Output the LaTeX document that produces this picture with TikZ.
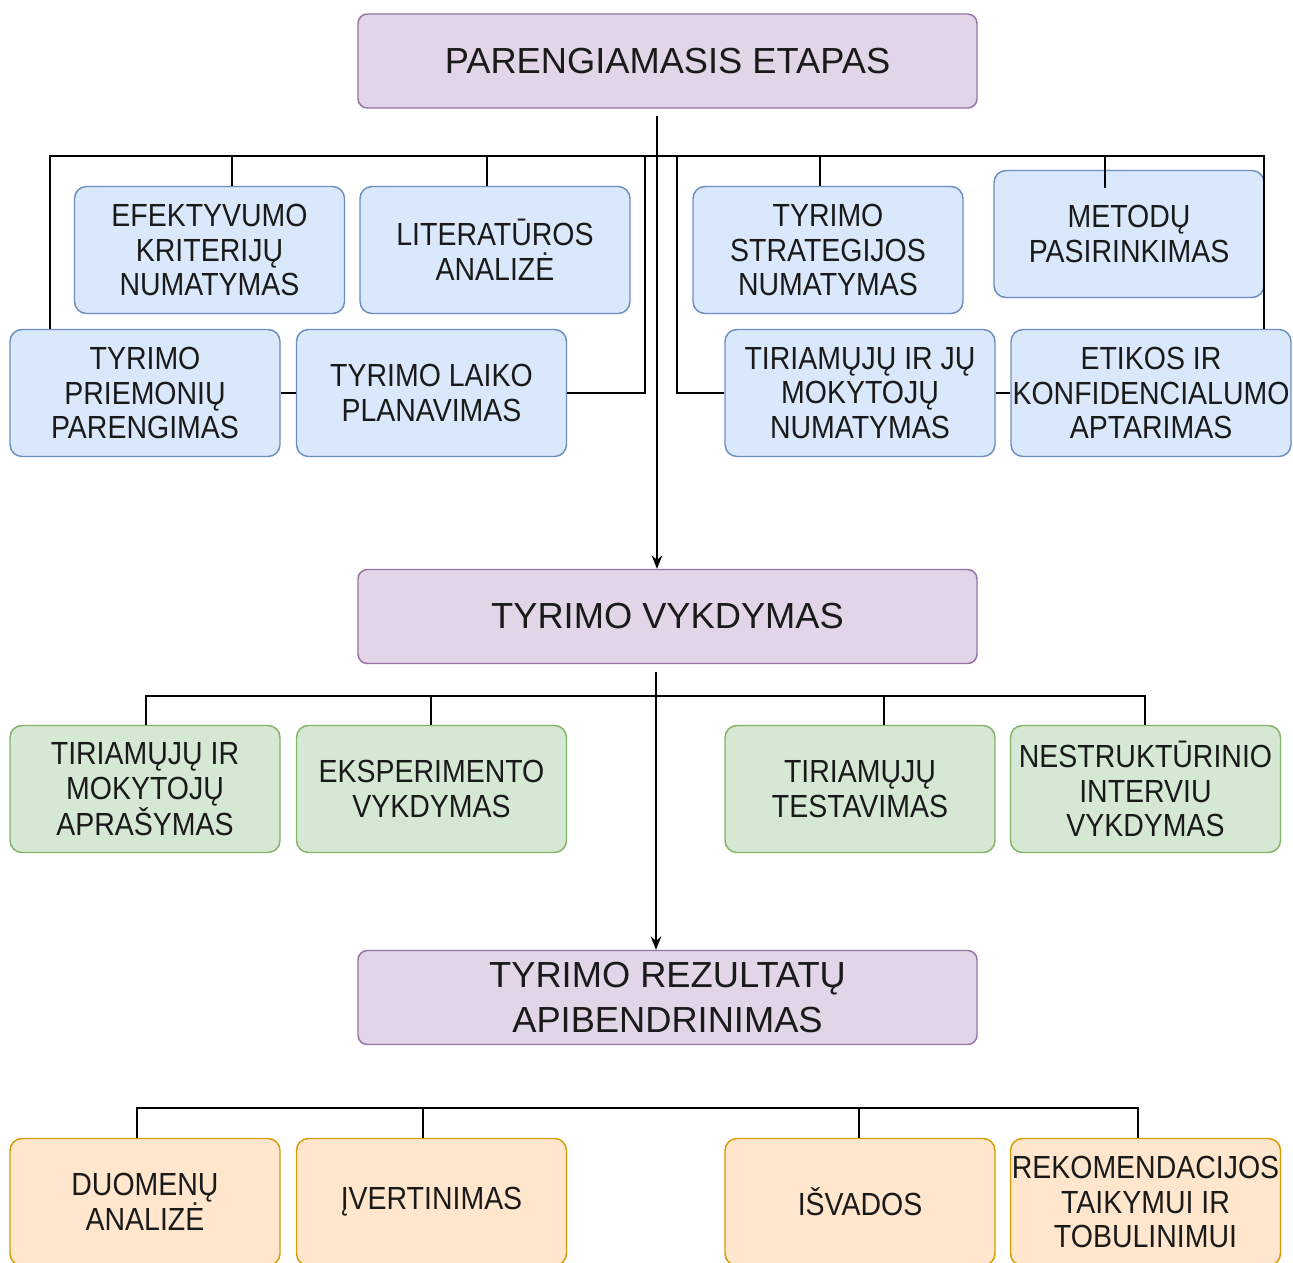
\documentclass[tikz,border=0pt]{standalone}
\usepackage{fontspec}
\setmainfont{Liberation Sans}
\newfontfamily\boxfont{Liberation Sans}[FakeStretch=0.89]
\usetikzlibrary{arrows.meta}
\definecolor{phasefill}{HTML}{E1D5E7}
\definecolor{phasedraw}{HTML}{9673A6}
\definecolor{prepfill}{HTML}{DAE8FC}
\definecolor{prepdraw}{HTML}{6C8EBF}
\definecolor{runfill}{HTML}{D5E8D4}
\definecolor{rundraw}{HTML}{82B366}
\definecolor{resfill}{HTML}{FFE6CC}
\definecolor{resdraw}{HTML}{D79B00}
\definecolor{ink}{HTML}{1A1A1A}
\tikzset{
  phase/.style={draw=phasedraw, fill=phasefill, line width=1.1pt, rounded corners=7pt,
    minimum width=464.25pt, minimum height=70.5pt, inner sep=0pt, align=center, text=ink,
    font=\fontsize{27.2pt}{33.75pt}\selectfont},
  task/.style={line width=1.1pt, rounded corners=9pt,
    minimum width=202.5pt, minimum height=95.25pt, inner sep=0pt, align=center, text=ink,
    font=\boxfont\fontsize{24pt}{25.9pt}\selectfont},
  prep/.style={task, draw=prepdraw, fill=prepfill},
  run/.style={task, draw=rundraw, fill=runfill},
  res/.style={task, draw=resdraw, fill=resfill},
  link/.style={draw=black, line width=1pt},
  flow/.style={link, -{Stealth[length=10pt,width=8pt]}},
}
\begin{document}
\begin{tikzpicture}[x=0.75pt, y=-0.75pt]
\useasboundingbox (0,0) rectangle (1293,1263);
\clip (0,0) rectangle (1293,1263);
\fill[white] (0,0) rectangle (1293,1263);

% main phases
\node[phase] (prepPhase) at (667.5,61) {PARENGIAMASIS ETAPAS};
\node[phase] (runPhase) at (667.5,616.5) {TYRIMO VYKDYMAS};
\node[phase] (resPhase) at (667.5,997.5) {TYRIMO REZULTATŲ\\APIBENDRINIMAS};

% preparation tasks
\node[prep] (efk) at (209.5,250) {EFEKTYVUMO\\KRITERIJŲ\\NUMATYMAS};
\node[prep, minimum height=95.25pt] (lit) at (495,250) {LITERATŪROS\\ANALIZĖ};
\node[prep] (str) at (828,250) {TYRIMO\\STRATEGIJOS\\NUMATYMAS};
\node[prep] (met) at (1129,234) {METODŲ\\PASIRINKIMAS};
\node[prep] (pri) at (145,393) {TYRIMO\\PRIEMONIŲ\\PARENGIMAS};
\node[prep] (lai) at (431.5,393) {TYRIMO LAIKO\\PLANAVIMAS};
\node[prep] (tir) at (860,393) {TIRIAMŲJŲ IR JŲ\\MOKYTOJŲ\\NUMATYMAS};
\node[prep, minimum width=210pt] (eti) at (1151,393) {ETIKOS IR\\KONFIDENCIALUMO\\APTARIMAS};

% research tasks
\node[run] (aps) at (145,789) {TIRIAMŲJŲ IR\\MOKYTOJŲ\\APRAŠYMAS};
\node[run] (eks) at (431.5,789) {EKSPERIMENTO\\VYKDYMAS};
\node[run] (tes) at (860,789) {TIRIAMŲJŲ\\TESTAVIMAS};
\node[run] (int) at (1145.5,789) {NESTRUKTŪRINIO\\INTERVIU\\VYKDYMAS};

% result tasks
\node[res] (dan) at (145,1202) {DUOMENŲ\\ANALIZĖ};
\node[res] (ive) at (431.5,1202) {ĮVERTINIMAS};
\node[res] (isv) at (860,1202) {IŠVADOS};
\node[res] (rek) at (1145.5,1202) {REKOMENDACIJOS\\TAIKYMUI IR\\TOBULINIMUI};

% preparation bus
\coordinate (busL) at (50,156);
\coordinate (busR) at (1264,156);
\coordinate (dEfk) at (232,156);
\coordinate (dLit) at (487,156);
\coordinate (dStr) at (820,156);
\coordinate (dMet) at (1105,156);
\coordinate (dMetEnd) at (1105,188);
\coordinate (tL) at (645,156);
\coordinate (tR) at (677,156);
\draw[link] (pri.north -| busL) -- (busL) -- (busR) -- (eti.north -| busR);
\draw[link] (dEfk) -- (dEfk |- efk.north);
\draw[link] (dLit) -- (dLit |- lit.north);
\draw[link] (dStr) -- (dStr |- str.north);
\draw[link] (dMet) -- (dMetEnd);
\draw[link] (tL) |- (lai.east);
\draw[link] (tR) |- (tir.west);
\draw[link] (pri.east) -- (lai.west);
\draw[link] (tir.east) -- (eti.west);

% research bus
\coordinate (rbL) at (146,696);
\coordinate (rbR) at (1145,696);
\coordinate (rEks) at (431,696);
\coordinate (rTes) at (884,696);
\draw[link] (aps.north -| rbL) -- (rbL) -- (rbR) -- (int.north -| rbR);
\draw[link] (rEks) -- (rEks |- eks.north);
\draw[link] (rTes) -- (rTes |- tes.north);

% result bus
\coordinate (sbL) at (137,1108);
\coordinate (sbR) at (1138,1108);
\coordinate (sIve) at (423,1108);
\coordinate (sIsv) at (859,1108);
\draw[link] (dan.north -| sbL) -- (sbL) -- (sbR) -- (rek.north -| sbR);
\draw[link] (sIve) -- (sIve |- ive.north);
\draw[link] (sIsv) -- (sIsv |- isv.north);

% phase arrows
\coordinate (a1) at (657,116);
\coordinate (a2) at (656,672);
\draw[flow] (a1) -- (a1 |- runPhase.north);
\draw[flow] (a2) -- (a2 |- resPhase.north);
\end{tikzpicture}
\end{document}
